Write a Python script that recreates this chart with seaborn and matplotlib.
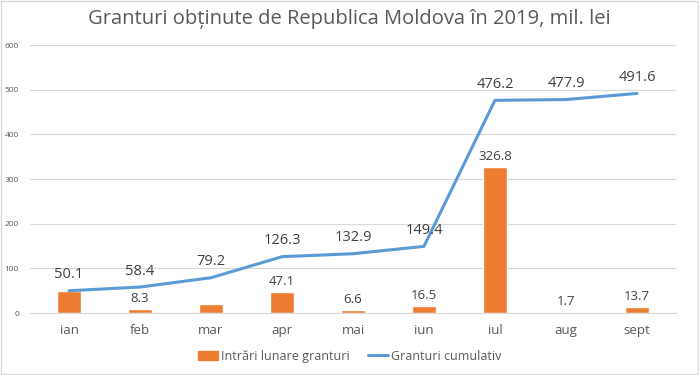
import numpy as np
import pandas as pd
import matplotlib
matplotlib.use("Agg")
import matplotlib.pyplot as plt
import seaborn as sns
from matplotlib.patches import Rectangle
from matplotlib.lines import Line2D

# Date
luni = ['ian', 'feb', 'mar', 'apr', 'mai', 'iun', 'iul', 'aug', 'sept']
intrari = [50.1, 8.3, 20.8, 47.1, 6.6, 16.5, 326.8, 1.7, 13.7]
cumulativ = [50.1, 58.4, 79.2, 126.3, 132.9, 149.4, 476.2, 477.9, 491.6]
# etichetele barelor ascunse in original (ian, mar)
arata_eticheta = [False, True, False, True, True, True, True, True, True]

df = pd.DataFrame({'luna': luni, 'intrari': intrari, 'cumulativ': cumulativ})
df['poz'] = np.arange(len(luni))

sns.set_style("white")
plt.rcParams['font.family'] = ['Open Sans', 'DejaVu Sans']

portocaliu = '#ED7D31'
albastru = '#5B9BD5'
gri_text = '#595959'

fig = plt.figure(figsize=(6.99, 3.75), dpi=100)
ax = fig.add_axes([0.043, 0.165, 0.924, 0.715])

sns.barplot(data=df, x='luna', y='intrari', color=portocaliu, width=0.34,
            saturation=1, ax=ax, zorder=2)
sns.lineplot(data=df, x='poz', y='cumulativ', color=albastru, linewidth=2.2,
             ax=ax, zorder=3)

# etichete
for i, (v, c) in enumerate(zip(intrari, cumulativ)):
    ax.annotate(f"{c:.1f}", (i, c), xytext=(0, 6), textcoords='offset points',
                ha='center', va='bottom', fontsize=10.5, color='#404040')
    if arata_eticheta[i]:
        ax.annotate(f"{v:.1f}", (i, v), xytext=(0, 3), textcoords='offset points',
                    ha='center', va='bottom', fontsize=9.5, color='#404040')

ax.set_ylim(0, 600)
ax.set_xlim(-0.55, len(luni) - 0.45)
ax.set_yticks(range(0, 601, 100))
ax.yaxis.grid(True, color='#d9d9d9', linewidth=0.8, zorder=0)
ax.set_axisbelow(True)
ax.tick_params(axis='y', labelsize=6, colors=gri_text, length=0, pad=8)
ax.tick_params(axis='x', labelsize=9.5, colors=gri_text, length=0, pad=8)
ax.set_xlabel('')
ax.set_ylabel('')
for s in ['top', 'right', 'left']:
    ax.spines[s].set_visible(False)
ax.spines['bottom'].set_color('#d9d9d9')

fig.text(0.5, 0.95, 'Granturi obținute de Republica Moldova în 2019, mil. lei',
         ha='center', va='center', fontsize=14.5, color=gri_text)

handles = [Rectangle((0, 0), 1, 1, color=portocaliu),
           Line2D([0], [0], color=albastru, linewidth=2.2)]
fig.legend(handles, ['Intrări lunare granturi', 'Granturi cumulativ'],
           loc='center', bbox_to_anchor=(0.5, 0.05), ncol=2, frameon=False,
           fontsize=9, labelcolor=gri_text, handlelength=1.6, handletextpad=0.2,
           columnspacing=1.5)

fig.patches.append(Rectangle((0.001, 0.002), 0.997, 0.995, transform=fig.transFigure,
                             fill=False, edgecolor='#d9d9d9', linewidth=1))

fig.savefig('out.png', dpi=100)
